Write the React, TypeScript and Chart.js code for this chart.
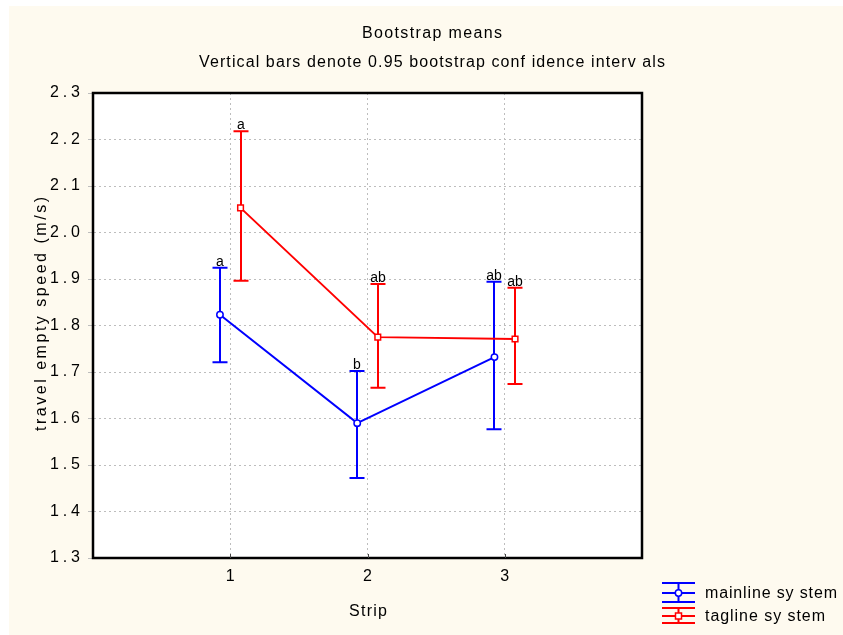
import React, { useEffect, useRef } from 'react';
import { Chart, registerables } from 'chart.js';

Chart.register(...registerables);

// Strip numbers on the x axis
const strips = [1, 2, 3];
const xTickLabels = ['1', '2', '3'];

// Bootstrap means and 0.95 confidence limits per strip
const mainlineMean = [1.823, 1.59, 1.732];
const mainlineLow = [1.721, 1.472, 1.577];
const mainlineHigh = [1.924, 1.702, 1.894];
const mainlineLetters = ['a', 'b', 'ab'];

const taglineMean = [2.053, 1.775, 1.771];
const taglineLow = [1.896, 1.666, 1.674];
const taglineHigh = [2.218, 1.889, 1.881];
const taglineLetters = ['a', 'ab', 'ab'];

const seriesNames = ['mainline sy stem', 'tagline sy stem'];
const titleText = 'Bootstrap means';
const subtitleText = 'Vertical bars denote 0.95 bootstrap conf idence interv als';
const xTitle = 'Strip';
const yTitle = 'travel empty speed (m/s)';

const FONT = '"Liberation Sans", Arial, sans-serif';
const BLUE = '#0000ff';
const RED = '#ff0000';
const BG = '#fefaef';

// horizontal shift of each series so the bars do not overlap
const mainlineShift = -0.075;
const taglineShift = 0.075;

type Pt = { x: number; y: number; lo: number; hi: number; letter: string };

function buildPoints(mean: number[], lo: number[], hi: number[], letters: string[], shift: number): Pt[] {
  return strips.map((s, i) => ({ x: s + shift, y: mean[i], lo: lo[i], hi: hi[i], letter: letters[i] }));
}

const CAP = 7.5;

// Draws text stretched with letter spacing to a given overall width
function drawSpaced(ctx: any, text: string, x: number, y: number, width: number, align: 'left' | 'center' | 'right') {
  ctx.save();
  ctx.letterSpacing = '0px';
  const w0 = ctx.measureText(text).width;
  const n = Array.from(text).length;
  const ls = n > 1 ? Math.max(0, (width - w0) / (n - 1)) : 0;
  ctx.letterSpacing = `${ls}px`;
  ctx.textAlign = 'left';
  const total = w0 + ls * (n - 1);
  const x0 = align === 'left' ? x : align === 'center' ? x - total / 2 : x - total;
  ctx.fillText(text, x0, y);
  ctx.restore();
}

const backgroundPlugin = {
  id: 'bg',
  beforeDraw(chart: any) {
    const { ctx, width, height, chartArea } = chart;
    ctx.save();
    ctx.fillStyle = BG;
    ctx.fillRect(0, 0, width, height);
    ctx.fillStyle = '#ffffff';
    ctx.fillRect(chartArea.left, chartArea.top, chartArea.right - chartArea.left, chartArea.bottom - chartArea.top);
    ctx.restore();
  },
};

const errorBarPlugin = {
  id: 'errorBars',
  beforeDatasetsDraw(chart: any) {
    const { ctx } = chart;
    const xs = chart.scales.x;
    const ys = chart.scales.y;
    chart.data.datasets.forEach((ds: any) => {
      ctx.save();
      ctx.strokeStyle = ds.borderColor;
      ctx.lineWidth = 2;
      (ds.data as Pt[]).forEach((p) => {
        const px = Math.round(xs.getPixelForValue(p.x));
        const top = ys.getPixelForValue(p.hi);
        const bot = ys.getPixelForValue(p.lo);
        ctx.beginPath();
        ctx.moveTo(px, top);
        ctx.lineTo(px, bot);
        ctx.moveTo(px - CAP, top);
        ctx.lineTo(px + CAP, top);
        ctx.moveTo(px - CAP, bot);
        ctx.lineTo(px + CAP, bot);
        ctx.stroke();
        ctx.fillStyle = '#000';
        ctx.font = `14px ${FONT}`;
        ctx.textBaseline = 'alphabetic';
        drawSpaced(ctx, p.letter, px, top - 2, p.letter.length > 1 ? 15 : 8, 'center');
      });
      ctx.restore();
    });
  },
};

const decorPlugin = {
  id: 'decor',
  afterDraw(chart: any) {
    const { ctx, chartArea } = chart;
    const { left, right, top, bottom } = chartArea;
    ctx.save();
    // frame
    ctx.strokeStyle = '#000';
    ctx.lineWidth = 2.5;
    ctx.strokeRect(left, top, right - left, bottom - top);
    // small inner ticks on the x axis
    ctx.lineWidth = 1;
    ctx.strokeStyle = '#444';
    const xs = chart.scales.x;
    strips.forEach((s) => {
      const px = Math.round(xs.getPixelForValue(s)) + 0.5;
      ctx.beginPath();
      ctx.moveTo(px, bottom - 4);
      ctx.lineTo(px, bottom);
      ctx.stroke();
    });

    ctx.fillStyle = '#000';
    ctx.font = `16px ${FONT}`;
    ctx.textBaseline = 'alphabetic';
    drawSpaced(ctx, titleText, 423, 32, 140, 'center');
    drawSpaced(ctx, subtitleText, 423, 61, 466, 'center');

    // y tick labels, placed by the y scale
    const ys = chart.scales.y;
    ctx.textBaseline = 'middle';
    ys.ticks.forEach((t: any) => {
      const py = ys.getPixelForValue(t.value);
      drawSpaced(ctx, Number(t.value).toFixed(1), 71, py, 30, 'right');
    });

    // axis titles
    drawSpaced(ctx, xTitle, 359, 606, 38, 'center');
    ctx.save();
    ctx.translate(33, 308);
    ctx.rotate(-Math.PI / 2);
    drawSpaced(ctx, yTitle, 0, 0, 234, 'center');
    ctx.restore();

    // legend
    const items = [
      { name: seriesNames[0], color: BLUE, top: 577, mid: 587, bot: 596, marker: 'circle', w: 132 },
      { name: seriesNames[1], color: RED, top: 602, mid: 610, bot: 617, marker: 'square', w: 120 },
    ];
    items.forEach((it) => {
      const x0 = 653, x1 = 686, xc = 669.5;
      ctx.strokeStyle = it.color;
      ctx.lineWidth = 2;
      ctx.beginPath();
      ctx.moveTo(x0, it.top); ctx.lineTo(x1, it.top);
      ctx.moveTo(x0, it.mid); ctx.lineTo(x1, it.mid);
      ctx.moveTo(x0, it.bot); ctx.lineTo(x1, it.bot);
      ctx.moveTo(xc, it.top); ctx.lineTo(xc, it.bot);
      ctx.stroke();
      ctx.fillStyle = '#fff';
      ctx.lineWidth = 1.5;
      ctx.beginPath();
      if (it.marker === 'circle') {
        ctx.arc(xc, it.mid, 3.2, 0, Math.PI * 2);
      } else {
        ctx.rect(xc - 3, it.mid - 3, 6, 6);
      }
      ctx.fill();
      ctx.stroke();
      ctx.fillStyle = '#000';
      ctx.textBaseline = 'middle';
      ctx.font = `16px ${FONT}`;
      drawSpaced(ctx, it.name, 696, (it.top + it.bot) / 2 + 1, it.w, 'left');
    });
    ctx.restore();
  },
};

export default function App() {
  const canvasRef = useRef<HTMLCanvasElement | null>(null);

  useEffect(() => {
    if (!canvasRef.current) return;
    const chart = new Chart(canvasRef.current, {
      type: 'line',
      data: {
        datasets: [
          {
            label: seriesNames[0],
            data: buildPoints(mainlineMean, mainlineLow, mainlineHigh, mainlineLetters, mainlineShift) as any,
            borderColor: BLUE,
            borderWidth: 2,
            backgroundColor: '#ffffff',
            pointStyle: 'circle',
            pointRadius: 3.2,
            pointBorderWidth: 1.5,
            pointBorderColor: BLUE,
            pointBackgroundColor: '#ffffff',
            tension: 0,
          },
          {
            label: seriesNames[1],
            data: buildPoints(taglineMean, taglineLow, taglineHigh, taglineLetters, taglineShift) as any,
            borderColor: RED,
            borderWidth: 2,
            backgroundColor: '#ffffff',
            pointStyle: 'rect',
            pointRadius: 4,
            pointBorderWidth: 1.5,
            pointBorderColor: RED,
            pointBackgroundColor: '#ffffff',
            tension: 0,
          },
        ],
      },
      options: {
        responsive: false,
        animation: false,
        layout: { padding: { top: 87, right: 201, left: 0, bottom: 0 } },
        plugins: {
          legend: { display: false },
          title: { display: false },
          tooltip: { enabled: false },
        },
        scales: {
          x: {
            type: 'linear',
            min: 0,
            max: 4,
            afterBuildTicks: (s: any) => {
              s.ticks = strips.map((v) => ({ value: v }));
            },
            afterFit: (s: any) => {
              s.height = 77;
            },
            ticks: {
              callback: (v: any) => {
                const i = strips.indexOf(Number(v));
                return i >= 0 ? xTickLabels[i] : '';
              },
              font: { family: FONT, size: 16 },
              color: '#000',
              padding: 9,
              maxRotation: 0,
            },
            grid: {
              color: '#bdbdbd',
              lineWidth: 1,
              drawTicks: false,
            },
            border: { display: true, color: 'rgba(0,0,0,0)', dash: [2, 3] },
          },
          y: {
            type: 'linear',
            min: 1.3,
            max: 2.3,
            afterFit: (s: any) => {
              s.width = 84;
            },
            ticks: {
              stepSize: 0.1,
              display: false,
            },
            grid: {
              color: '#bdbdbd',
              lineWidth: 1,
              tickLength: 5,
            },
            border: { display: true, color: 'rgba(0,0,0,0)', dash: [2, 3] },
          },
        },
      },
      plugins: [backgroundPlugin, errorBarPlugin, decorPlugin],
    });
    return () => chart.destroy();
  }, []);

  return (
    <div style={{ position: 'fixed', left: 9, top: 6, width: 834, height: 629 }}>
      <canvas ref={canvasRef} width={834} height={629} style={{ display: 'block', width: 834, height: 629 }} />
    </div>
  );
}
